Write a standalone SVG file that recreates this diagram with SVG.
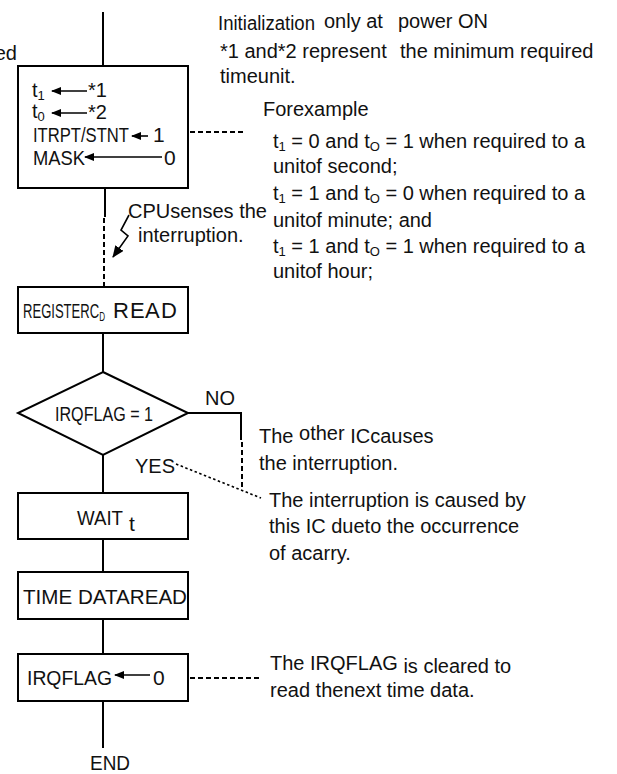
<svg xmlns="http://www.w3.org/2000/svg" width="617" height="774" viewBox="0 0 617 774">
<style>
text{font-family:"Liberation Sans",Arial,sans-serif;fill:#111;}
.a{font-size:20px;}
.b{font-size:21px;}
.box{fill:#fff;stroke:#000;stroke-width:2;}
.ln{stroke:#000;stroke-width:2;fill:none;}
.dash{stroke:#000;stroke-width:2;fill:none;stroke-dasharray:5 3;}
.dot{stroke:#000;stroke-width:1.6;fill:none;stroke-dasharray:2.5 2.5;}
.ar{stroke:#000;stroke-width:1.6;fill:none;marker-end:url(#ah);}
</style>
<defs>
<marker id="ah" viewBox="0 0 10 8" refX="9" refY="4" markerWidth="10" markerHeight="8" markerUnits="userSpaceOnUse" orient="auto">
<path d="M0,0 L10,4 L0,8 Z" fill="#000"/>
</marker>
<marker id="ah2" viewBox="0 0 12 10" refX="11" refY="5" markerWidth="12" markerHeight="10" markerUnits="userSpaceOnUse" orient="auto">
<path d="M0,0 L12,5 L0,10 Z" fill="#000"/>
</marker>
</defs>

<g id="connectors">
<line class="ln" x1="103" y1="12" x2="103" y2="66"/>
<line class="ln" x1="105" y1="188" x2="105" y2="217"/>
<line class="dash" x1="104" y1="218" x2="104" y2="287" stroke-dasharray="4 3"/>
<line class="ln" x1="103" y1="333" x2="103" y2="372"/>
<polyline class="ln" points="188,413 241,413 241,440"/>
<line class="dash" x1="242" y1="442" x2="242" y2="487" stroke-dasharray="4 3"/>
<line class="dot" x1="176" y1="464" x2="261" y2="498"/>
<line class="ln" x1="103" y1="455" x2="103" y2="493"/>
<line class="ln" x1="103" y1="539" x2="103" y2="572"/>
<line class="ln" x1="103" y1="619" x2="103" y2="654"/>
<line class="ln" x1="103" y1="701" x2="103" y2="748"/>
<line class="dash" x1="190" y1="132" x2="243" y2="132"/>
<line class="dash" x1="190" y1="678" x2="262" y2="678"/>
<polyline points="129,215 121,230 128,236 113,257" stroke="#000" stroke-width="1.6" fill="none" marker-end="url(#ah2)"/>
</g>

<g id="cut-label"><text class="a" x="17" y="60" text-anchor="end">ed</text></g>

<g id="init">
<rect class="box" x="18" y="66" width="170" height="122"/>
<text class="a" x="32" y="97">t<tspan font-size="13" dy="3">1</tspan></text>
<line class="ar" x1="87" y1="91" x2="52" y2="91"/>
<text class="a" x="88" y="97">*1</text>
<text class="a" x="32" y="118">t<tspan font-size="13" dy="3">0</tspan></text>
<line class="ar" x1="87" y1="113" x2="52" y2="113"/>
<text class="a" x="88" y="119">*2</text>
<text class="b" x="33" y="142" textLength="96" lengthAdjust="spacingAndGlyphs">ITRPT/STNT</text>
<line class="ar" x1="148" y1="136" x2="132" y2="136"/>
<text class="b" x="153" y="142">1</text>
<text class="b" x="33" y="165" textLength="52" lengthAdjust="spacingAndGlyphs">MASK</text>
<line class="ar" x1="162" y1="157" x2="85" y2="157"/>
<text class="b" x="164" y="165">0</text>
</g>

<g id="note-init">
<text class="a" x="218" y="30" textLength="97" lengthAdjust="spacingAndGlyphs">Initialization</text>
<text class="a" x="324" y="28">only at</text>
<text class="a" x="398" y="28">power ON</text>
<text class="a" x="220" y="58">*1 and*2 represent</text>
<text class="a" x="400" y="58">the minimum required</text>
<text class="a" x="220" y="83">timeunit.</text>
<text class="a" x="263" y="116">Forexample</text>
<text class="a" x="273" y="148">t<tspan font-size="13" dy="3">1</tspan><tspan dy="-3"> = 0 and  t</tspan><tspan font-size="13" dy="3">O</tspan><tspan dy="-3"> = 1 when  required  to a</tspan></text>
<text class="a" x="273" y="173">unitof second;</text>
<text class="a" x="273" y="200">t<tspan font-size="13" dy="3">1</tspan><tspan dy="-3"> = 1 and  t</tspan><tspan font-size="13" dy="3">O</tspan><tspan dy="-3"> = 0 when  required  to a</tspan></text>
<text class="a" x="273" y="227">unitof minute; and</text>
<text class="a" x="273" y="253">t<tspan font-size="13" dy="3">1</tspan><tspan dy="-3"> = 1 and  t</tspan><tspan font-size="13" dy="3">O</tspan><tspan dy="-3"> = 1 when  required  to a</tspan></text>
<text class="a" x="273" y="278">unitof hour;</text>
</g>

<g id="cpu-note">
<text class="a" x="128" y="218">CPUsenses the</text>
<text class="a" x="138" y="242">interruption.</text>
</g>

<g id="register">
<rect class="box" x="18" y="287" width="170" height="46"/>
<text class="b" x="23" y="318" textLength="82" lengthAdjust="spacingAndGlyphs">REGISTERC<tspan font-size="13" dy="3">D</tspan></text>
<text font-size="22" x="113 130 145 161" y="318">READ</text>
</g>

<g id="decision">
<polygon class="box" points="103,372 188,413 103,455 18,413"/>
<text class="b" x="55" y="421" textLength="98" lengthAdjust="spacingAndGlyphs">IRQFLAG = 1</text>
<text class="a" x="205" y="405">NO</text>
<text class="a" x="135" y="473">YES</text>
</g>

<g id="note-no">
<text class="a" x="259" y="443">The <tspan dy="-3">other</tspan><tspan dy="3">  ICcauses</tspan></text>
<text class="a" x="259" y="470">the   interruption.</text>
</g>

<g id="note-yes">
<text class="a" x="269" y="507">The interruption is caused by</text>
<text class="a" x="269" y="533">this IC dueto the occurrence</text>
<text class="a" x="269" y="560">of acarry.</text>
</g>

<g id="wait">
<rect class="box" x="18" y="493" width="170" height="46"/>
<text class="b" x="77" y="525" textLength="46" lengthAdjust="spacingAndGlyphs">WAIT</text>
<text class="b" x="129" y="531">t</text>
</g>

<g id="timeread">
<rect class="box" x="18" y="572" width="170" height="47"/>
<text class="b" x="23" y="604" textLength="164" lengthAdjust="spacingAndGlyphs">TIME  DATAREAD</text>
</g>

<g id="clearflag">
<rect class="box" x="18" y="654" width="170" height="47"/>
<text class="b" x="27" y="685" textLength="85" lengthAdjust="spacingAndGlyphs">IRQFLAG</text>
<line class="ar" x1="150" y1="675" x2="115" y2="675"/>
<text class="b" x="153" y="685">0</text>
</g>

<g id="note-clear">
<text class="a" x="270" y="670">The IRQFLAG <tspan dy="3">is cleared  to</tspan></text>
<text class="a" x="270" y="697">read thenext time  data.</text>
</g>

<g id="end">
<text class="b" x="90" y="770" textLength="40" lengthAdjust="spacingAndGlyphs">END</text>
</g>
</svg>
